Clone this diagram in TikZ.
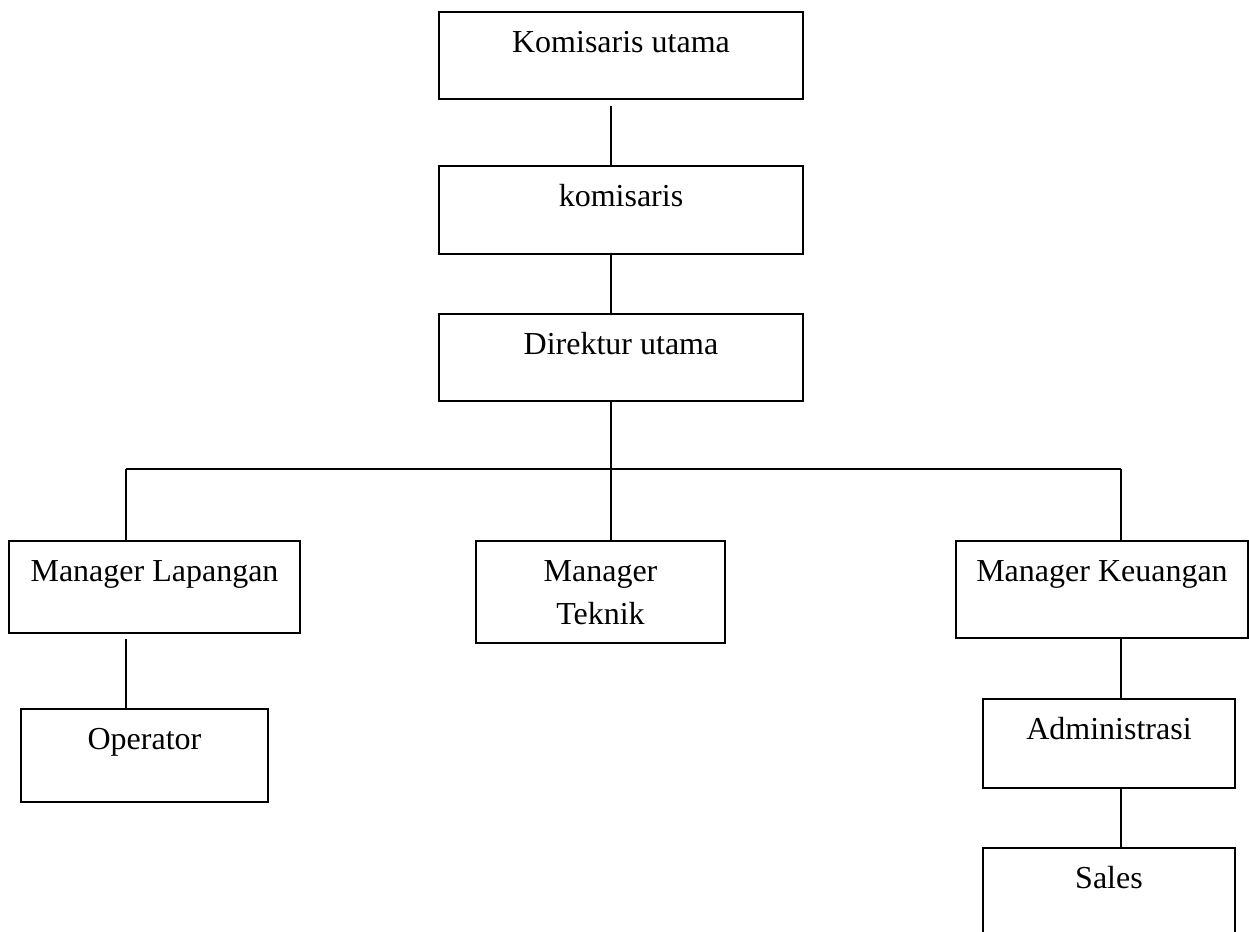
\documentclass[tikz,border=0pt]{standalone}
\usepackage{fontspec}
\setmainfont{Liberation Serif}
\tikzset{
  unit/.style={draw, line width=1pt, inner sep=0pt, anchor=north,
    text height=20pt, font=\fontsize{16pt}{21.5pt}\selectfont},
  link/.style={line width=0.8pt}
}
\begin{document}
\begin{tikzpicture}[x=0.5pt, y=-0.5pt]
  \path[use as bounding box, clip] (0,0) rectangle (1249,932);
  \coordinate (spine) at (611,0);
  \coordinate (lcol) at (126,0);
  \coordinate (rcol) at (1121,0);
  \coordinate (bus) at (611,469);

  \node[unit, minimum width=182pt, text depth=23.5pt] (komut) at (621,11) {Komisaris utama};
  \node[unit, minimum width=182pt, text depth=24pt] (kom) at (621,165) {komisaris};
  \node[unit, minimum width=182pt, text depth=23.5pt] (dirut) at (621,313) {Direktur utama};

  \node[unit, minimum width=145.5pt, text depth=26pt] (mlap) at (154.5,540) {Manager Lapangan};
  \node[unit, minimum width=124.5pt, text depth=31pt] (mtek) at (600.5,540)
    {\begin{tabular}[t]{@{}c@{}}Manager\\Teknik\end{tabular}};
  \node[unit, minimum width=146pt, text depth=28.5pt] (mkeu) at (1102,540) {Manager Keuangan};

  \node[unit, minimum width=123.5pt, text depth=26.5pt] (oper) at (144.5,708) {Operator};
  \node[unit, minimum width=126pt, text depth=24.5pt] (adm) at (1109,698) {Administrasi};
  \node[unit, minimum width=126pt, text depth=26pt] (sales) at (1109,847) {Sales};

  % top chain
  \draw[link, shorten <=3pt] (komut.south -| spine) -- (kom.north -| spine);
  \draw[link] (kom.south -| spine) -- (dirut.north -| spine);
  \draw[link] (dirut.south -| spine) -- (mtek.north -| spine);
  \draw[link] (bus -| lcol) -- (bus -| rcol);
  \draw[link] (bus -| lcol) -- (mlap.north -| lcol);
  \draw[link] (bus -| rcol) -- (mkeu.north -| rcol);

  % branches
  \draw[link, shorten <=2.5pt] (mlap.south -| lcol) -- (oper.north -| lcol);
  \draw[link] (mkeu.south -| rcol) -- (adm.north -| rcol);
  \draw[link] (adm.south -| rcol) -- (sales.north -| rcol);
\end{tikzpicture}
\end{document}
